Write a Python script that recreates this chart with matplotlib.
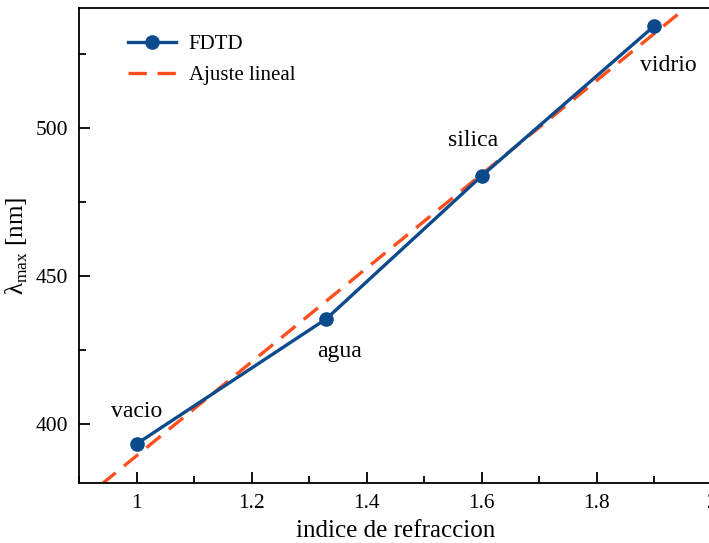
import numpy as np
import matplotlib
matplotlib.use("Agg")
import matplotlib.pyplot as plt
from matplotlib.ticker import MultipleLocator

plt.rcParams['font.family'] = ['Liberation Serif', 'DejaVu Serif']
plt.rcParams['mathtext.fontset'] = 'custom'
plt.rcParams['mathtext.rm'] = 'Liberation Serif'

n_index = [1.0, 1.33, 1.6, 1.9]
lambda_max = [393.2, 435.5, 483.8, 534.5]
materials = ['vacio', 'agua', 'silica', 'vidrio']
label_offsets = [(0, 32), (13, -33), (-9, 35), (14, -40)]

slope, intercept = np.polyfit(n_index, lambda_max, 1)
x_fit = np.array([0.9, 2.0])

fig = plt.figure(figsize=(7.09, 5.43), dpi=100)
ax = fig.add_axes([79 / 709, 60 / 543, 633 / 709, 475 / 543])

ax.plot(n_index, lambda_max, '-o', color='#0b4a8b', lw=2.4, ms=9.5, label='FDTD', zorder=3)
ax.plot(x_fit, slope * x_fit + intercept, '--', color='#ff4f1f', lw=2.4,
        dashes=(5.5, 3.2), label='Ajuste lineal', zorder=2)

for xi, yi, name, off in zip(n_index, lambda_max, materials, label_offsets):
    ax.annotate(name, (xi, yi), xytext=off, textcoords='offset pixels',
                ha='center', va='center', fontsize=17)

ax.set_xlim(0.9, 2.0)
ax.set_ylim(380, 540.5)
ax.xaxis.set_major_locator(MultipleLocator(0.2))
ax.xaxis.set_minor_locator(MultipleLocator(0.1))
ax.yaxis.set_major_locator(MultipleLocator(50))
ax.yaxis.set_minor_locator(MultipleLocator(25))
ax.set_xticks([1.0, 1.2, 1.4, 1.6, 1.8, 2.0], ['1', '1.2', '1.4', '1.6', '1.8', '2'])
ax.tick_params(which='both', direction='in', top=False, right=False, labelsize=15.5, width=1.3)
ax.tick_params(which='major', length=8, pad=8)
ax.tick_params(which='minor', length=5)
for s in ax.spines.values():
    s.set_linewidth(1.3)

ax.set_xlabel('indice de refraccion', fontsize=18, labelpad=5)
ax.set_ylabel(r'λ$_{\mathrm{max}}$ [nm]', fontsize=18, labelpad=4)

ax.legend(loc='upper left', bbox_to_anchor=(0.055, 0.975), frameon=False, fontsize=15,
          handlelength=2.3, borderaxespad=0.3, labelspacing=0.55, handletextpad=0.6)

fig.savefig('out.png', dpi=100)
